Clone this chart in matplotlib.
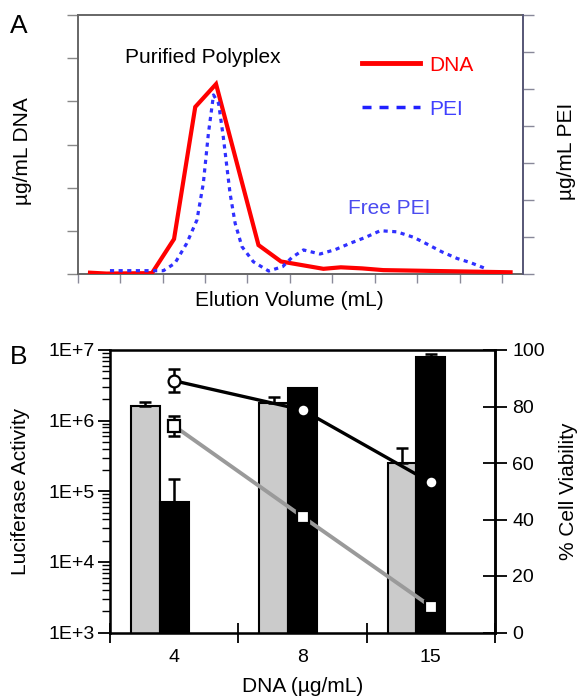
import matplotlib
matplotlib.use("Agg")
import matplotlib.pyplot as plt
from matplotlib.lines import Line2D
import numpy as np

plt.rcParams['font.family'] = ['Liberation Sans', 'DejaVu Sans']

# ---------------- Panel A data ----------------
dna_x = [0.29, 0.68, 1.75, 2.27, 2.77, 3.26, 4.26, 4.79, 5.79, 6.20, 6.70, 7.20, 10.2]
dna_y = [0.03, 0.01, 0.02, 0.81, 3.87, 4.40, 0.67, 0.29, 0.12, 0.155, 0.13, 0.09, 0.04]

pei_x = [0.76, 2.02, 2.29, 2.57, 2.81, 2.96, 3.08, 3.20, 3.32, 3.43, 3.59, 3.71, 3.87,
         4.14, 4.50, 4.83, 5.05, 5.32, 5.71, 6.07, 6.42, 6.78, 7.13, 7.52, 7.92, 8.23,
         8.58, 8.94, 9.25, 9.65]
pei_y = [0.09, 0.09, 0.29, 0.83, 1.46, 2.45, 3.80, 4.84, 4.61, 3.71, 2.18, 1.37, 0.74,
         0.33, 0.08, 0.20, 0.45, 0.65, 0.54, 0.66, 0.83, 0.99, 1.17, 1.14, 0.99, 0.81,
         0.60, 0.42, 0.31, 0.13]

# ---------------- Panel B data ----------------
dna_conc = ["4", "8", "15"]
luc_grey = [1.61e6, 1.76e6, 2.55e5]
luc_grey_err = [2.5e5, 4.3e5, 1.6e5]
luc_black = [7.1e4, 2.87e6, 7.9e6]
luc_black_err = [7.9e4, 0.0, 9.0e5]
via_circle = [89.1, 78.8, 53.1]
via_circle_err = [4.1, 0.0, 0.0]
via_square = [73.1, 41.0, 9.2]
via_square_err = [3.5, 0.0, 0.0]
luc_ticks = [1e3, 1e4, 1e5, 1e6, 1e7]
luc_ticklabels = ["1E+3", "1E+4", "1E+5", "1E+6", "1E+7"]
via_ticks = [0, 20, 40, 60, 80, 100]

W, H = 580, 696
fig = plt.figure(figsize=(W / 100, H / 100), dpi=100)

def fx(px):
    return px / W

def fy(py):
    return 1 - py / H

# ================= Panel A =================
axA = fig.add_axes([fx(77.7), fy(274), fx(523.3) - fx(77.7), fy(15) - fy(274)])
axA.plot(dna_x, dna_y, color='#ff0000', lw=3.0, solid_joinstyle='miter', zorder=3)
axA.set_xlim(0, 10.5)
axA.set_ylim(0, 6)
axA.set_xticks(np.arange(0, 11))
axA.set_yticks(np.arange(0, 7))
axA.tick_params(axis='x', direction='out', length=6.5, width=1, color='#8a8a9a',
                labelbottom=False)
axA.tick_params(axis='y', direction='out', length=8, width=1, color='#888888',
                labelleft=False)
for side in ['left', 'top', 'bottom']:
    axA.spines[side].set_color('#666666')
    axA.spines[side].set_linewidth(1.4)
axA.spines['right'].set_color('#5a5a78')
axA.spines['right'].set_linewidth(1.4)

axA2 = axA.twinx()
axA2.plot(pei_x, pei_y, color='#3030ff', lw=2.3, linestyle=(0, (1.3, 1.4)), zorder=2)
axA2.set_ylim(0, 7)
axA2.set_yticks(np.arange(0, 8))
axA2.tick_params(axis='y', direction='out', length=8, width=1, color='#888899',
                 labelright=False)
axA2.spines['right'].set_color('#5a5a78')
axA2.spines['right'].set_linewidth(1.4)
for side in ['left', 'top', 'bottom']:
    axA2.spines[side].set_visible(False)

handles = [Line2D([], [], color='#ff0000', lw=3.5),
           Line2D([], [], color='#2020ff', lw=2.5, linestyle=(0, (2.6, 2.3)))]
leg = axA.legend(handles, ["DNA", "PEI"], loc='upper left',
                 bbox_to_anchor=(0.638, 0.843), frameon=False, fontsize=15,
                 handlelength=2.8, handletextpad=0.45, labelspacing=1.2,
                 borderpad=0, borderaxespad=0, labelcolor=['#ff0000', '#4040ff'])

axA.text(0.106, 0.816, "Purified Polyplex", transform=axA.transAxes, fontsize=15,
         ha='left', va='baseline', color='black')
axA.text(0.607, 0.2305, "Free PEI", transform=axA.transAxes, fontsize=15,
         ha='left', va='baseline', color='#4b4bf0')

fig.text(fx(10), fy(26), "A", fontsize=19, ha='left', va='center')
fig.text(fx(23), fy(151), "µg/mL DNA", fontsize=15, rotation=90, ha='center', va='center')
fig.text(fx(567), fy(151), "µg/mL PEI", fontsize=15, rotation=90, ha='center', va='center')
fig.text(fx(289), fy(300), "Elution Volume (mL)", fontsize=15, ha='center', va='center')

# ================= Panel B =================
axB = fig.add_axes([fx(110), fy(632.5), fx(495) - fx(110), fy(350) - fy(632.5)])
xc = np.arange(len(dna_conc)) + 0.5
bw = 0.225
axB.set_yscale('log')
axB.set_ylim(luc_ticks[0], luc_ticks[-1])
axB.set_xlim(0, 3)
axB.bar(xc - bw, luc_grey, width=bw, color='#cbcbcb', edgecolor='black', linewidth=1.5,
        yerr=[np.zeros(3), luc_grey_err], error_kw=dict(ecolor='black', elinewidth=1.8,
                                                        capsize=4.5, capthick=1.8),
        zorder=2)
axB.bar(xc, luc_black, width=bw, color='black', edgecolor='black', linewidth=1.5,
        yerr=[np.zeros(3), luc_black_err], error_kw=dict(ecolor='black', elinewidth=1.8,
                                                         capsize=4.5, capthick=1.8),
        zorder=2)
axB.set_yticks(luc_ticks)
axB.set_yticklabels(luc_ticklabels)
axB.set_xticks([0, 1, 2, 3])
axB.set_xticklabels([])
axB.set_xticks(xc, minor=True)
axB.set_xticklabels(dna_conc, minor=True)
axB.tick_params(axis='x', which='major', direction='inout', length=15, width=1.3)
axB.tick_params(axis='x', which='minor', length=0, pad=12, labelsize=14)
axB.tick_params(axis='y', which='major', direction='out', length=9, width=1.3,
                labelsize=14, pad=2)
axB.tick_params(axis='y', which='minor', direction='out', length=5.5, width=1.0)
for side in axB.spines:
    axB.spines[side].set_linewidth(1.8)
    axB.spines[side].set_color('black')

axB2 = axB.twinx()
axB2.set_ylim(0, 100)
axB2.set_yticks(via_ticks)
axB2.tick_params(axis='y', direction='inout', length=17, width=1.3, labelsize=14, pad=4)
axB2.spines['right'].set_linewidth(1.8)
axB2.errorbar(xc, via_circle, yerr=via_circle_err, fmt='none', ecolor='black',
              elinewidth=1.8, capsize=4, capthick=1.8, zorder=3)
axB2.errorbar(xc, via_square, yerr=via_square_err, fmt='none', ecolor='black',
              elinewidth=1.8, capsize=4, capthick=1.8, zorder=3)
axB2.plot(xc, via_circle, '-o', color='black', lw=2.4, ms=8.5, mfc='white', mec='black',
          mew=1.6, zorder=4)
axB2.plot(xc, via_square, '-s', color='#9a9a9a', lw=2.8, ms=8, mfc='white', mec='black',
          mew=1.6, zorder=4)

fig.text(fx(10), fy(357), "B", fontsize=19, ha='left', va='center')
fig.text(fx(21), fy(491), "Luciferase Activity", fontsize=15, rotation=90,
         ha='center', va='center')
fig.text(fx(569), fy(491), "% Cell Viability", fontsize=15, rotation=90,
         ha='center', va='center')
fig.text(fx(303), fy(687), "DNA (µg/mL)", fontsize=15, ha='center', va='center')

fig.savefig("out.png", dpi=100)
